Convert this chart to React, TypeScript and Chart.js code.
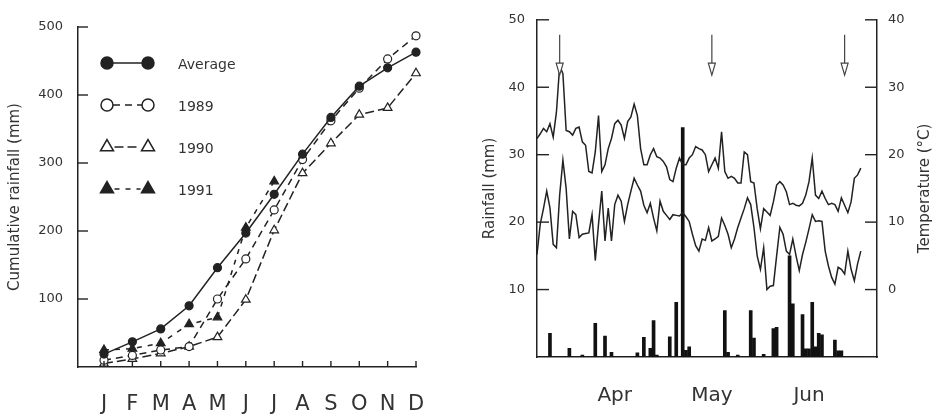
import React, { useEffect, useRef } from 'react';
import { Chart, registerables } from 'chart.js';

Chart.register(...registerables);

// ---------- Left panel data ----------
const MONTHS = ['J', 'F', 'M', 'A', 'M', 'J', 'J', 'A', 'S', 'O', 'N', 'D'];
const AVERAGE = [19, 37, 56, 90, 146, 197, 254, 313, 367, 413, 440, 463];
const Y1989 = [10, 17, 25, 30, 100, 159, 231, 305, 362, 410, 453, 487];
const Y1990 = [5, 12, 20, 30, 44, 99, 201, 285, 329, 371, 381, 432];
const Y1991 = [25, 27, 35, 63, 73, 205, 273];
const CUM_TICKS = [100, 200, 300, 400, 500];
const SERIES_NAMES = ['Average', '1989', '1990', '1991'];

// ---------- Right panel data (daily, from start of record) ----------
const SEASON_LABELS = ['Apr', 'May', 'Jun'];
const SEASON_LABEL_DAYS = [24, 54, 84];
const RAIN_TICKS = [10, 20, 30, 40, 50];
const TEMP_TICKS = [0, 10, 20, 30, 40];
const ARROW_DAYS = [7, 54, 95];

const TMAX = [
  22.4, 23.1, 23.9, 23.4, 24.6, 22.6, 26.3, 33.2, 32, 23.6,
  23.4, 22.9, 23.9, 24.1, 21.9, 21.4, 17.5, 17.3, 20.4, 25.8,
  17.5, 18.5, 20.9, 22.4, 24.6, 25.1, 24.4, 22.4, 24.9, 25.6,
  27.5, 25.8, 20.9, 18.5, 18.5, 20, 20.9, 19.7, 19.5, 19,
  18.2, 16.3, 16, 18, 19.5, 18.5, 18.5, 19.5, 20, 21.2,
  20.9, 20.7, 20, 17.5, 18.5, 19.5, 18, 23.4, 17.5, 16.5,
  16.8, 16.5, 15.8, 15.8, 20.4, 20, 16, 15.8, 12, 9,
  12, 11.5, 11, 13, 15.5, 16, 15.5, 14.5, 12.6, 12.8,
  12.5, 12.4, 12.8, 14, 16, 19.5, 14, 13.5, 14.6, 13.5,
  12.6, 12.8, 12.6, 11.6, 13.6, 12.5, 11.4, 13, 16.5, 17, 18,
];

const TMIN = [
  5.2, 9.7, 12, 14.6, 12.1, 6.7, 6.2, 14, 19.2, 15,
  7.5, 11.6, 11.1, 7.7, 8.2, 8.3, 8.4, 11.1, 4.3, 9.7,
  14.6, 7.2, 12.1, 7.2, 12.6, 14, 13.1, 10.1, 12.6, 14.6,
  16.5, 15.5, 14.6, 12.5, 11.4, 12.8, 10.6, 8.7, 13.1, 11.6,
  11, 10.4, 11.1, 11, 10.9, 11.4, 10.8, 10.1, 8.2, 6.5,
  5.7, 7.5, 7.3, 9.2, 7.2, 7.5, 7.9, 10.6, 9.5, 8.2,
  6.2, 7.5, 9.2, 10.6, 12, 13.6, 12.6, 9.2, 5, 3,
  6.2, 0, 0.5, 0.6, 5, 9.2, 8.2, 5.7, 5.2, 7.5,
  5, 2.8, 5.2, 7, 9, 11.1, 10.1, 10.2, 10.1, 5.7,
  3.5, 1.8, 0.8, 3.3, 3, 2.3, 5.7, 3, 1.3, 3.8, 5.7,
];

const RAIN = [
  0, 0, 0, 0, 3.5, 0, 0, 0, 0, 0,
  1.3, 0, 0, 0, 0.3, 0, 0, 0, 5, 0,
  0, 3.1, 0, 0.7, 0, 0, 0, 0, 0, 0,
  0, 0.6, 0, 2.9, 0, 1.3, 5.4, 0.3, 0, 0,
  0, 3, 0, 8.1, 0, 34, 1, 1.5, 0, 0,
  0, 0, 0, 0, 0, 0, 0, 0, 6.9, 0.7,
  0, 0, 0.3, 0, 0, 0, 6.9, 2.8, 0, 0,
  0.4, 0, 0, 4.2, 4.4, 0, 0, 0, 15, 7.9,
  0, 0, 6.3, 1.2, 1.2, 8.1, 1.5, 3.5, 3.3, 0,
  0, 0, 2.5, 0.9, 0.9, 0, 0, 0, 0, 0, 0,
];

const INK = '#222222';
const TEXT = '#333333';
const FONT = 'DejaVu Sans';

// ---------- helpers ----------
function drawMarker(ctx: CanvasRenderingContext2D, style: string, x: number, y: number, r: number, fill: string) {
  ctx.beginPath();
  if (style === 'triangle') {
    let rad = 0;
    ctx.moveTo(x + Math.sin(rad) * r, y - Math.cos(rad) * r);
    rad += (2 * Math.PI) / 3;
    ctx.lineTo(x + Math.sin(rad) * r, y - Math.cos(rad) * r);
    rad += (2 * Math.PI) / 3;
    ctx.lineTo(x + Math.sin(rad) * r, y - Math.cos(rad) * r);
    ctx.closePath();
  } else {
    ctx.arc(x, y, r, 0, Math.PI * 2);
  }
  ctx.fillStyle = fill;
  ctx.fill();
  ctx.stroke();
}

const innerTicks = {
  id: 'innerTicks',
  afterDraw(chart: any, _args: any, opts: any) {
    const ctx = chart.ctx as CanvasRenderingContext2D;
    ctx.save();
    ctx.strokeStyle = INK;
    ctx.lineWidth = 1.4;
    for (const spec of opts.specs || []) {
      const s = chart.scales[spec.id];
      for (const v of spec.values) {
        const p = s.getPixelForValue(v);
        ctx.beginPath();
        if (s.isHorizontal()) {
          ctx.moveTo(p, s.top);
          ctx.lineTo(p, s.top - spec.len);
        } else if (s.position === 'left') {
          ctx.moveTo(s.right, p);
          ctx.lineTo(s.right + spec.len, p);
        } else {
          ctx.moveTo(s.left, p);
          ctx.lineTo(s.left - spec.len, p);
        }
        ctx.stroke();
      }
    }
    ctx.restore();
  },
};

const seriesLegend = {
  id: 'seriesLegend',
  afterDatasetsDraw(chart: any) {
    const ctx = chart.ctx as CanvasRenderingContext2D;
    const area = chart.chartArea;
    chart.data.datasets.forEach((ds: any, i: number) => {
      const y = area.top + 36 + i * 42;
      const x1 = area.left + 29;
      const x2 = x1 + 41;
      const r = ds.pointStyle === 'triangle' ? 7.5 : 6;
      ctx.save();
      ctx.strokeStyle = INK;
      ctx.lineWidth = 1.5;
      ctx.setLineDash(ds.borderDash || []);
      ctx.beginPath();
      ctx.moveTo(x1 + r, y);
      ctx.lineTo(x2 - r, y);
      ctx.stroke();
      ctx.setLineDash([]);
      drawMarker(ctx, ds.pointStyle, x1, y, r, ds.pointBackgroundColor);
      drawMarker(ctx, ds.pointStyle, x2, y, r, ds.pointBackgroundColor);
      ctx.fillStyle = TEXT;
      ctx.font = `14px "${FONT}"`;
      ctx.textBaseline = 'middle';
      ctx.textAlign = 'left';
      ctx.fillText(ds.label, x2 + 30, y + 2);
      ctx.restore();
    });
  },
};

const arrows = {
  id: 'arrows',
  afterDatasetsDraw(chart: any) {
    const ctx = chart.ctx as CanvasRenderingContext2D;
    const xs = chart.scales.x;
    const ys = chart.scales.y;
    ctx.save();
    ctx.strokeStyle = '#444';
    ctx.lineWidth = 1.2;
    for (const d of ARROW_DAYS) {
      const px = xs.getPixelForValue(d);
      const top = ys.getPixelForValue(47.8);
      const tip = ys.getPixelForValue(41.8);
      ctx.beginPath();
      ctx.moveTo(px, top);
      ctx.lineTo(px, tip - 12);
      ctx.stroke();
      ctx.beginPath();
      ctx.moveTo(px - 3.5, tip - 12);
      ctx.lineTo(px + 3.5, tip - 12);
      ctx.lineTo(px, tip);
      ctx.closePath();
      ctx.fillStyle = '#fff';
      ctx.fill();
      ctx.stroke();
    }
    ctx.restore();
  },
};

const rightTitle = {
  id: 'rightTitle',
  afterDraw(chart: any, _a: any, opts: any) {
    const ctx = chart.ctx as CanvasRenderingContext2D;
    const area = chart.chartArea;
    ctx.save();
    ctx.translate(chart.width - 11, (area.top + area.bottom) / 2);
    ctx.rotate(-Math.PI / 2);
    ctx.fillStyle = TEXT;
    ctx.font = `15px "${FONT}"`;
    ctx.textAlign = 'center';
    ctx.textBaseline = 'middle';
    ctx.fillText(opts.text, 0, 0);
    ctx.restore();
  },
};

function toXY(arr: number[]) {
  return arr.map((v, i) => ({ x: i, y: v }));
}

export default function App() {
  const leftRef = useRef<HTMLCanvasElement>(null);
  const rightRef = useRef<HTMLCanvasElement>(null);

  useEffect(() => {
    const lineDs = (label: string, data: number[], style: string, fill: string, dash: number[]) => ({
      label,
      data: toXY(data),
      borderColor: INK,
      borderWidth: 1.5,
      borderDash: dash,
      pointStyle: style,
      pointRadius: style === 'triangle' ? 5 : 4,
      pointBackgroundColor: fill,
      pointBorderColor: INK,
      pointBorderWidth: 1.2,
      tension: 0,
      clip: false as any,
    });

    const left = new Chart(leftRef.current!, {
      type: 'line',
      data: {
        datasets: [
          lineDs(SERIES_NAMES[0], AVERAGE, 'circle', INK, []),
          lineDs(SERIES_NAMES[1], Y1989, 'circle', '#ffffff', [7, 5]),
          lineDs(SERIES_NAMES[2], Y1990, 'triangle', '#ffffff', [9, 4]),
          lineDs(SERIES_NAMES[3], Y1991, 'triangle', INK, [5, 6]),
        ] as any,
      },
      options: {
        animation: false,
        responsive: false,
        devicePixelRatio: 1,
        layout: { padding: { top: 27, right: 54, left: 0, bottom: 0 } },
        plugins: {
          legend: { display: false },
          tooltip: { enabled: false },
          innerTicks: {
            specs: [
              { id: 'y', values: CUM_TICKS, len: 10 },
              { id: 'x', values: MONTHS.map((_, i) => i), len: 6 },
            ],
          },
        } as any,
        scales: {
          x: {
            type: 'linear',
            min: -0.917,
            max: 11,
            grid: { display: false, drawTicks: false },
            border: { display: true, color: INK, width: 1.5 },
            afterBuildTicks: (s: any) => {
              s.ticks = MONTHS.map((_, i) => ({ value: i }));
            },
            afterFit: (s: any) => {
              s.height = 49;
            },
            ticks: {
              autoSkip: false,
              maxRotation: 0,
              padding: 25,
              color: TEXT,
              font: { family: FONT, size: 21 },
              callback: (_v: any, i: number) => MONTHS[i],
            },
          },
          y: {
            type: 'linear',
            min: 0,
            max: 500,
            grid: { display: false, drawTicks: false },
            border: { display: true, color: INK, width: 1.5 },
            afterBuildTicks: (s: any) => {
              s.ticks = CUM_TICKS.map((v) => ({ value: v }));
            },
            afterFit: (s: any) => {
              s.width = 78;
            },
            ticks: {
              padding: 15,
              color: TEXT,
              font: { family: FONT, size: 13 },
            },
            title: {
              display: true,
              text: 'Cumulative rainfall (mm)',
              color: TEXT,
              font: { family: FONT, size: 15 },
              padding: { top: 6, bottom: 0 },
            },
          },
        },
      } as any,
      plugins: [innerTicks, seriesLegend],
    });

    const right = new Chart(rightRef.current!, {
      type: 'bar',
      data: {
        datasets: [
          {
            type: 'line',
            label: 'Maximum temperature',
            data: toXY(TMAX),
            yAxisID: 'y2',
            borderColor: INK,
            borderWidth: 1.5,
            pointRadius: 0,
            tension: 0,
          },
          {
            type: 'line',
            label: 'Minimum temperature',
            data: toXY(TMIN),
            yAxisID: 'y2',
            borderColor: INK,
            borderWidth: 1.5,
            pointRadius: 0,
            tension: 0,
          },
          {
            type: 'bar',
            label: 'Rainfall',
            data: toXY(RAIN),
            yAxisID: 'y',
            backgroundColor: '#111111',
            borderWidth: 0,
            barThickness: 3,
          },
        ] as any,
      },
      options: {
        animation: false,
        responsive: false,
        devicePixelRatio: 1,
        layout: { padding: { top: 17, right: 0, left: 0, bottom: 0 } },
        plugins: {
          legend: { display: false },
          tooltip: { enabled: false },
          innerTicks: {
            specs: [
              { id: 'y', values: RAIN_TICKS, len: 12 },
              { id: 'y2', values: TEMP_TICKS, len: 12 },
            ],
          },
          rightTitle: { text: 'Temperature (°C)' },
        } as any,
        scales: {
          x: {
            type: 'linear',
            min: 0,
            max: 105,
            offset: false,
            grid: { display: false, drawTicks: false },
            border: { display: true, color: INK, width: 1.5 },
            afterBuildTicks: (s: any) => {
              s.ticks = SEASON_LABEL_DAYS.map((v) => ({ value: v }));
            },
            afterFit: (s: any) => {
              s.height = 59;
            },
            ticks: {
              autoSkip: false,
              maxRotation: 0,
              padding: 27,
              color: TEXT,
              font: { family: FONT, size: 20 },
              callback: (_v: any, i: number) => SEASON_LABELS[i],
            },
          },
          y: {
            type: 'linear',
            position: 'left',
            min: 0,
            max: 50,
            grid: { display: false, drawTicks: false },
            border: { display: true, color: INK, width: 1.5 },
            afterBuildTicks: (s: any) => {
              s.ticks = RAIN_TICKS.map((v) => ({ value: v }));
            },
            afterFit: (s: any) => {
              s.width = 67;
            },
            ticks: {
              padding: 12,
              color: TEXT,
              font: { family: FONT, size: 13 },
            },
            title: {
              display: true,
              text: 'Rainfall (mm)',
              color: TEXT,
              font: { family: FONT, size: 15 },
              padding: { top: 11, bottom: 0 },
            },
          },
          y2: {
            type: 'linear',
            position: 'right',
            min: -10,
            max: 40,
            grid: { display: false, drawTicks: false },
            border: { display: true, color: INK, width: 1.5 },
            afterBuildTicks: (s: any) => {
              s.ticks = TEMP_TICKS.map((v) => ({ value: v }));
            },
            afterFit: (s: any) => {
              s.width = 59;
            },
            ticks: {
              padding: 11,
              color: TEXT,
              font: { family: FONT, size: 13 },
            },
          },
        },
      } as any,
      plugins: [innerTicks, arrows, rightTitle],
    });

    return () => {
      left.destroy();
      right.destroy();
    };
  }, []);

  return (
    <div style={{ position: 'absolute', left: 0, top: 0, width: 936, height: 416, background: '#ffffff' }}>
      <canvas
        ref={leftRef}
        width={470}
        height={416}
        style={{ position: 'absolute', left: 0, top: 0, width: 470, height: 416 }}
      />
      <canvas
        ref={rightRef}
        width={466}
        height={416}
        style={{ position: 'absolute', left: 470, top: 0, width: 466, height: 416 }}
      />
    </div>
  );
}
